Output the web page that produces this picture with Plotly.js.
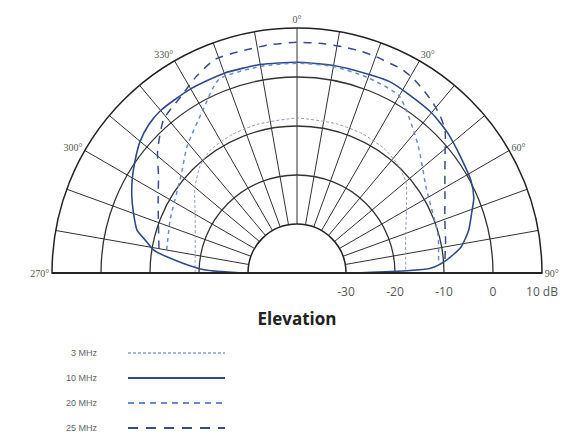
<!DOCTYPE html>
<html>
<head>
<meta charset="utf-8">
<script src="https://cdn.plot.ly/plotly-3.0.1.min.js"></script>
<style>html,body{margin:0;padding:0;background:#fff;}#chart{width:584px;height:436px;}</style>
</head>
<body>
<div id="chart"></div>
<script>
// ---- data ----
const seriesNames = ['3 MHz', '10 MHz', '20 MHz', '25 MHz'];

const theta3 = [-90, -80, -70, -60, -50, -42, -35, -25, -15, 0, 15, 25, 35, 42, 50, 60, 70, 80, 90];
const r3     = [-19.2, -18.9, -17.9, -16, -12.8, -10.5, -9.3, -8.8, -8.6, -8.4, -8.5, -8.6, -9, -9.7, -11, -14.2, -16.4, -17.5, -17.8];

const theta10 = [-90, -88, -85, -81, -78, -75, -70, -65, -60, -55, -50, -45, -40, -30, -20, -10, 0, 10, 20, 26, 32, 40, 47, 55, 62, 67, 71, 76, 81, 85, 88, 90];
const r10     = [-29, -21, -16.5, -10.5, -8.5, -6.2, -4.5, -2.8, -1.2, 0.3, 1.8, 2.8, 3.3, 3.4, 3.4, 3.2, 3.0, 3.0, 3.1, 3.4, 3.0, 2.7, 2.0, 0.9, 0.2, -0.8, -2.3, -3.9, -6.1, -9.3, -12.7, -28];

const theta20 = [-80, -67, -50, -41, -30, -22, -10, 0, 10, 20, 30, 43, 57, 75, 85];
const r20     = [-13, -11.9, -9.1, -5.8, -1.6, 2.6, 2.8, 2.8, 2.8, 2.4, 1.7, -3.9, -8.5, -10.2, -11];

const theta25 = [-80, -70, -62, -55, -49, -41, -33, -27, -21, -14, -7, 0, 7, 12, 16, 20, 24, 27, 31, 35, 38, 42, 46, 51, 56, 62, 70, 78, 85];
const r25     = [-11.4, -9.9, -7.9, -5.5, -2.3, 1.5, 3.2, 5.1, 6.7, 6.7, 6.9, 7.1, 7.1, 7.1, 7.1, 7.0, 6.8, 6.8, 6.2, 5.3, 4.6, 3.5, 2.0, -1.1, -3.6, -5.8, -7.9, -9.0, -9.7];

const angleTicks = [-90, -80, -70, -60, -50, -40, -30, -20, -10, 0, 10, 20, 30, 40, 50, 60, 70, 80, 90];
const angleLabels = ['270°', '', '', '300°', '', '', '330°', '', '', '0°', '', '', '30°', '', '', '60°', '', '', '90°'];
const radialTicks = [-30, -20, -10, 0, 10];
const radialLabels = ['-30', '-20', '-10', '0', '10 dB'];
const radialRange = [-30, 10];

// ---- styles ----
const styles = [
  {color: '#8f9fc4', width: 1, dash: '3px,2px'},
  {color: '#30498a', width: 1.6, dash: 'solid'},
  {color: '#6a8ad0', width: 1.5, dash: '4px,4px'},
  {color: '#3a4c8c', width: 1.5, dash: '8px,7px'}
];
const legendDash = ['3px,2px', 'solid', '6px,5px', '10px,8px'];
const thetas = [theta3, theta10, theta20, theta25];
const rs = [r3, r10, r20, r25];

const traces = [];
for (let i = 0; i < seriesNames.length; i++) {
  traces.push({
    type: 'scatterpolar', mode: 'lines', name: seriesNames[i],
    r: rs[i], theta: thetas[i],
    line: {color: styles[i].color, width: styles[i].width, dash: styles[i].dash, shape: 'spline', smoothing: 0.6},
    cliponaxis: false, showlegend: false
  });
}

// polar placement (pixels)
const cx = 297, cy = 273, R = 245, W = 584, H = 436;

// manual legend (text left of line sample)
const legendY = [353, 378, 403, 428];
const annotations = [];
const shapes = [
  // baseline across the whole diameter, including the hole
  {type: 'line', xref: 'paper', yref: 'paper', layer: 'above',
   x0: (cx - R) / W, x1: (cx + R) / W, y0: 1 - cy / H, y1: 1 - cy / H,
   line: {color: '#222', width: 2}}
];
for (let i = 0; i < seriesNames.length; i++) {
  annotations.push({
    xref: 'paper', yref: 'paper', x: 100 / W, y: 1 - legendY[i] / H,
    xanchor: 'right', yanchor: 'middle', showarrow: false,
    text: seriesNames[i], font: {family: 'Liberation Sans, Arial, sans-serif', size: 9, color: '#666'}
  });
  shapes.push({
    type: 'line', xref: 'paper', yref: 'paper',
    x0: 128 / W, x1: 225 / W, y0: 1 - legendY[i] / H, y1: 1 - legendY[i] / H,
    line: {color: styles[i].color, width: styles[i].width + 0.4, dash: legendDash[i]}
  });
}

const layout = {
  width: W, height: H,
  margin: {l: 0, r: 0, t: 0, b: 0},
  paper_bgcolor: '#fff',
  showlegend: false,
  title: {
    text: '<b>Elevation</b>', x: cx / W, xanchor: 'center',
    y: 1 - 319 / H, yanchor: 'middle', yref: 'paper',
    font: {family: 'Open Sans, sans-serif', size: 17, color: '#222'}
  },
  polar: {
    domain: {x: [(cx - R) / W, (cx + R) / W], y: [1 - cy / H, 1 - (cy - R) / H]},
    sector: [0, 180],
    hole: 0.2,
    bgcolor: '#fff',
    angularaxis: {
      rotation: 90, direction: 'clockwise',
      tickmode: 'array', tickvals: angleTicks, ticktext: angleLabels,
      ticks: '', showline: true, linecolor: '#222', linewidth: 1.5,
      gridcolor: '#333', gridwidth: 1,
      tickfont: {family: 'Liberation Serif, serif', size: 10, color: '#555'}
    },
    radialaxis: {
      range: radialRange, angle: 0, side: 'clockwise',
      tickmode: 'array', tickvals: radialTicks, ticktext: radialLabels,
      ticks: 'outside', ticklen: 8, tickcolor: 'rgba(0,0,0,0)',
      showline: false, gridcolor: '#333', gridwidth: 1.3,
      tickfont: {family: 'Open Sans, sans-serif', size: 12, color: '#555'},
      tickangle: 0
    }
  },
  annotations: annotations,
  shapes: shapes
};

Plotly.newPlot('chart', traces, layout, {staticPlot: true, displayModeBar: false});
</script>
</body>
</html>
